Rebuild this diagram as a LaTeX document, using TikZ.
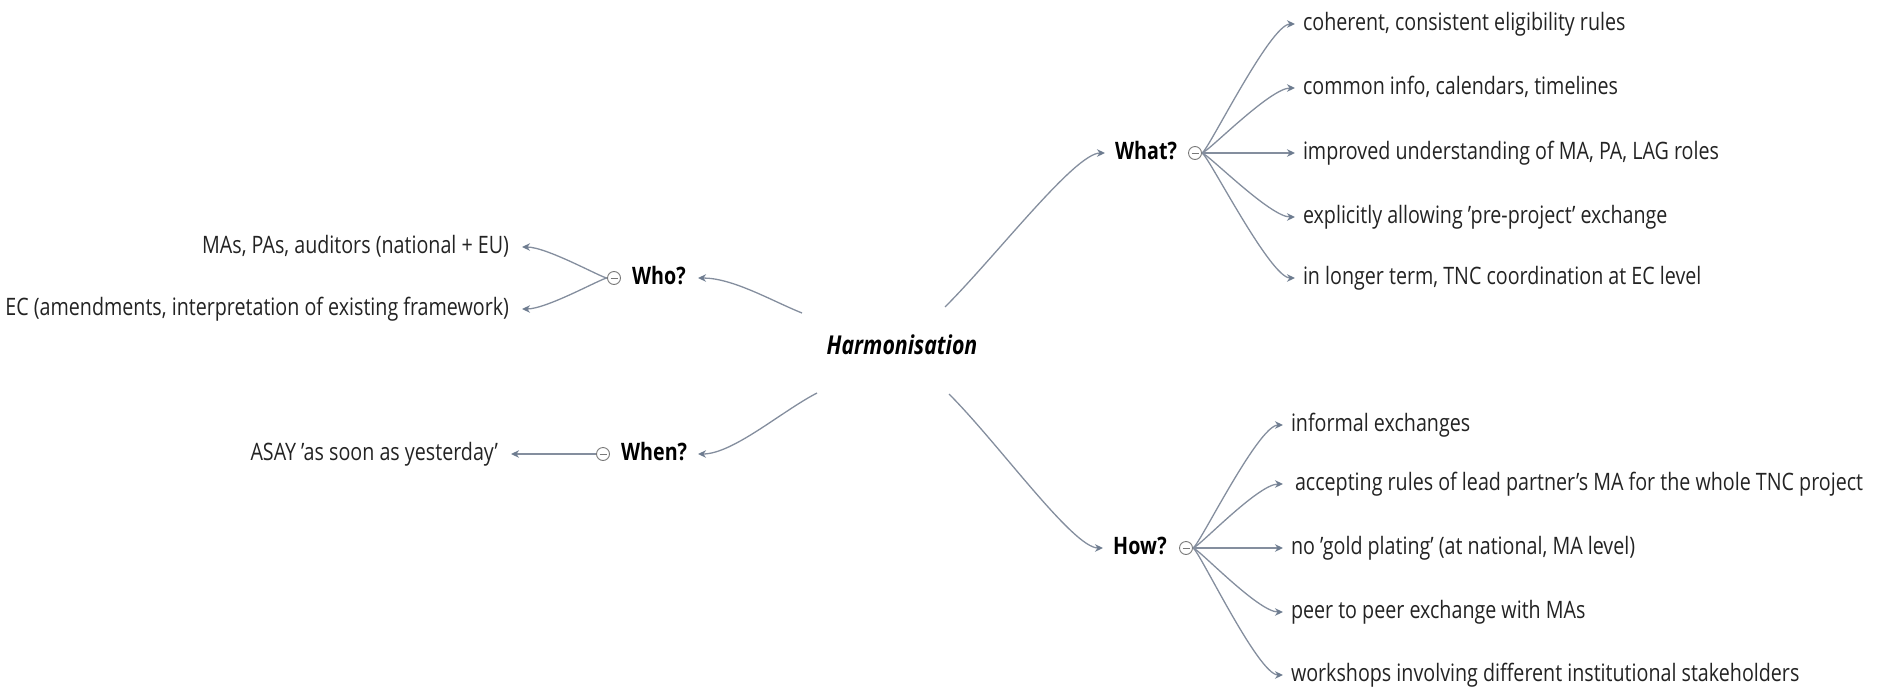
\documentclass[tikz,border=0pt]{standalone}
\usepackage{fontspec}
\setmainfont{Open Sans}[FakeStretch=0.82]
\usetikzlibrary{arrows.meta,calc}
\definecolor{linkc}{RGB}{132,142,158}
\definecolor{tipc}{RGB}{110,124,144}
\definecolor{txtc}{RGB}{35,35,35}
\definecolor{togc}{RGB}{120,120,120}
\begin{document}
\begin{tikzpicture}[x=1pt,y=-1pt,
  every node/.style={inner sep=0pt, text height=18pt, text depth=5pt},
  leafL/.style={font=\fontsize{24}{28}\selectfont, text=txtc, anchor=west, outer xsep=8pt},
  leafR/.style={font=\fontsize{24}{28}\selectfont, text=txtc, anchor=east, outer xsep=13pt},
  topic/.style={font=\fontsize{24}{28}\selectfont\bfseries, text=black, anchor=west},
  root/.style={font=\fontsize{26}{30}\selectfont\bfseries\itshape, text=black},
  link/.style={draw=linkc, line width=1.3pt, -{Stealth[length=8pt,width=7.5pt,color=tipc]}},
  toggle/.style={circle, draw=togc, line width=0.9pt, minimum size=13pt,
    text height=, text depth=,
    path picture={\draw[togc, line width=0.8pt]
      ([xshift=-3.5pt]path picture bounding box.center) --
      ([xshift=3.5pt]path picture bounding box.center);}}
]
\useasboundingbox (0,0) rectangle (1883,691);

% central topic
\node[root] (harm) at (902,348) {Harmonisation};
\coordinate (hWho)  at (802,313);
\coordinate (hWhen) at (817,393);
\coordinate (hWhat) at (945,307);
\coordinate (hHow)  at (949,394);

% main branches
\node[topic] (who)  at (632,278) {Who?};
\node[topic] (when) at (621,454) {When?};
\node[topic] (what) at (1115,153) {What?};
\node[topic] (how)  at (1113,548) {How?};

\coordinate (whoTip)  at (698,278);
\coordinate (whenTip) at (698,454);
\coordinate (whatTip) at (1105,153);
\coordinate (howTip)  at (1103,548);

\node[toggle] (whoC)  at (614,278) {};
\node[toggle] (whenC) at (603,454) {};
\node[toggle] (whatC) at (1195,153) {};
\node[toggle] (howC)  at (1186,548) {};

% leaves of Who? and When?
\node[leafR] (w1) at (522,247) {MAs, PAs, auditors (national + EU)};
\node[leafR] (w2) at (522,309) {EC (amendments, interpretation of existing framework)};
\node[leafR] (n1) at (511,454) {ASAY 'as soon as yesterday'};

% leaves of What?
\node[leafL] (a1) at (1295,24)  {coherent, consistent eligibility rules};
\node[leafL] (a2) at (1295,88)  {common info, calendars, timelines};
\node[leafL] (a3) at (1295,153) {improved understanding of MA, PA, LAG roles};
\node[leafL] (a4) at (1295,217) {explicitly allowing 'pre-project' exchange};
\node[leafL] (a5) at (1295,278) {in longer term, TNC coordination at EC level};

% leaves of How?
\node[leafL] (b1) at (1283,425) {informal exchanges};
\node[leafL] (b2) at (1283,484) {\hspace{4pt}accepting rules of lead partner's MA for the whole TNC project};
\node[leafL] (b3) at (1283,548) {no 'gold plating' (at national, MA level)};
\node[leafL] (b4) at (1283,612) {peer to peer exchange with MAs};
\node[leafL] (b5) at (1283,675) {workshops involving different institutional stakeholders};

% connectors from the central topic
\draw[link] (hWho)  .. controls +(-30,-12) and +(35,0) .. (whoTip);
\draw[link] (hWhen) .. controls +(-35,18) and +(35,0) .. (whenTip);
\draw[link] (hWhat) .. controls +(52,-52) and +(-30,0) .. (whatTip);
\draw[link] (hHow)  .. controls +(50,50) and +(-30,0) .. (howTip);

% fans to the leaves
\foreach \l in {w1,w2}
  \draw[link] (whoC.west) .. controls +(-5,0) and +(25,0) .. (\l.east);
\draw[link] (whenC.west) -- (n1.east);
\foreach \l in {a1,a2,a3,a4,a5}
  \draw[link] (whatC.east) .. controls +(5,0) and +(-25,0) .. (\l.west);
\foreach \l in {b1,b2,b3,b4,b5}
  \draw[link] (howC.east) .. controls +(5,0) and +(-25,0) .. (\l.west);
\end{tikzpicture}
\end{document}
